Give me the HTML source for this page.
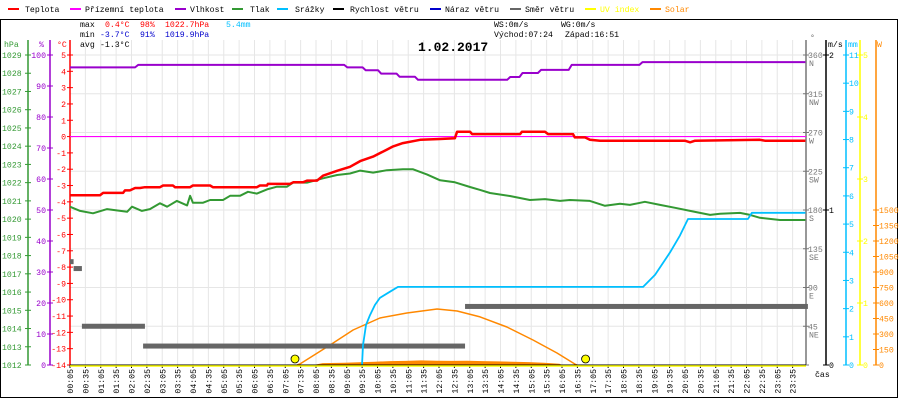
<!DOCTYPE html>
<html><head><meta charset="utf-8"><style>
html,body{margin:0;padding:0;background:#fff;}
svg{display:block;font-family:"Liberation Mono",monospace;}
</style></head><body>
<svg id="c" width="900" height="400" xmlns="http://www.w3.org/2000/svg">
<g id="grid"></g>
<rect x="0.5" y="19.5" width="897" height="378" fill="none" stroke="#000"/>
<g id="legend" font-size="8.2"></g>
<g font-size="8.2">
<text x="80" y="27" fill="#000">max</text><text x="105" y="27" fill="#f00">0.4°C</text><text x="140" y="27" fill="#f00">98%</text><text x="165" y="27" fill="#f00">1022.7hPa</text><text x="226" y="27" fill="#00bfff">5.4mm</text>
<text x="80" y="37" fill="#000">min</text><text x="100" y="37" fill="#00c">-3.7°C</text><text x="140" y="37" fill="#00c">91%</text><text x="165" y="37" fill="#00c">1019.9hPa</text>
<text x="80" y="47" fill="#000">avg</text><text x="100" y="47" fill="#000">-1.3°C</text>
<text x="494" y="27" fill="#000">WS:0m/s</text><text x="561" y="27" fill="#000">WG:0m/s</text>
<text x="494" y="37" fill="#000">Východ:07:24</text><text x="565" y="37" fill="#000">Západ:16:51</text>
</g>
<text x="418" y="51" font-size="13" font-weight="bold" fill="#000">1.02.2017</text>
<g id="axes"></g>
<g id="series"></g>
</svg>
<script>
const hours = [0.08,1.06,1.16,1.81,1.87,2.03,2.2,2.36,2.52,3.01,3.11,3.43,3.5,3.99,4.08,4.64,4.73,6.16,6.26,6.49,6.52,7.24,7.34,7.66,7.79,8.12,8.31,8.77,9.19,9.52,9.94,10.39,10.59,10.91,11.47,12.12,12.6,12.67,13.09,13.16,14.72,14.78,15.53,15.63,16.44,16.5,16.83,16.99,17.32,20.08,20.25,20.41,22.52,22.68,24.0];
const tempC = [-3.6,-3.6,-3.45,-3.45,-3.3,-3.3,-3.15,-3.15,-3.1,-3.1,-3.0,-3.0,-3.1,-3.1,-3.0,-3.0,-3.1,-3.1,-3.0,-3.0,-2.9,-2.9,-2.8,-2.8,-2.7,-2.7,-2.4,-2.1,-1.85,-1.5,-1.23,-0.8,-0.6,-0.4,-0.2,-0.15,-0.1,0.3,0.3,0.15,0.15,0.3,0.3,0.15,0.15,-0.05,-0.05,-0.2,-0.25,-0.25,-0.35,-0.25,-0.2,-0.25,-0.25];
const humHours = [0.08,2.2,2.3,9.0,9.1,9.6,9.7,10.1,10.2,10.7,10.8,11.3,11.4,14.3,14.4,14.7,14.8,15.3,15.4,16.3,16.4,18.6,18.7,24.0];
const humidity = [96,96,96.8,96.8,96,96,95.1,95.1,94,94,93,93,92,92,92.9,92.9,94.2,94.2,95.2,95.2,96.8,96.8,97.7,97.7];
const presHours = [0.08,0.41,0.83,1.29,1.94,2.1,2.42,2.68,3.01,3.24,3.56,3.89,3.99,4.08,4.41,4.64,5.06,5.29,5.61,5.87,6.16,6.49,6.81,7.14,7.34,7.79,8.31,8.77,9.19,9.52,9.94,10.39,10.91,11.24,11.69,12.12,12.6,13.09,13.42,13.74,14.39,15.04,15.53,16.02,16.34,16.99,17.48,17.97,18.29,18.78,19.27,19.76,20.25,20.57,20.9,21.22,21.87,22.2,22.52,23.17,24.0];
const pressure = [1020.68,1020.45,1020.32,1020.55,1020.4,1020.68,1020.45,1020.55,1020.87,1020.68,1021.0,1020.75,1021.28,1020.9,1020.9,1021.05,1021.05,1021.28,1021.28,1021.5,1021.4,1021.63,1021.78,1021.78,1022.0,1022.0,1022.24,1022.42,1022.5,1022.66,1022.55,1022.68,1022.73,1022.73,1022.45,1022.13,1022.02,1021.76,1021.6,1021.43,1021.27,1021.05,1021.1,1021.0,1021.05,1021.0,1020.73,1020.84,1020.78,1020.95,1020.78,1020.62,1020.45,1020.34,1020.23,1020.29,1020.34,1020.23,1020.07,1019.95,1019.95];
const rainHours = [9.58,9.61,9.71,9.84,10.0,10.16,10.49,10.75,18.72,19.11,19.6,19.92,20.18,22.13,22.26,24.0];
const rainMm = [0,0.7,1.42,1.77,2.13,2.38,2.6,2.77,2.77,3.2,4.0,4.6,5.18,5.18,5.4,5.4];
const solarHours = [7.47,7.56,8.54,9.29,10.16,11.04,12.02,12.67,13.42,14.29,15.14,15.92,16.5,16.57];
const solarMax = [0,10,194,339,455,503,542,523,465,368,242,116,10,0];
const solarActHours = [8.0,8.3,9.0,9.6,10.0,10.5,11.0,11.5,12.0,12.5,13.0,13.5,14.0,14.5,15.0,15.5,16.0,16.1];
const solarAct = [0,18,22,28,32,38,40,45,42,40,42,38,35,32,28,22,12,0];
const dirStart = [0.08,0.2,0.47,2.46,12.93];
const dirEnd = [0.2,0.47,2.52,12.93,24.08];
const dirDeg = [120,112,45,22,68];
const sunEvents = [7.4,16.85];
const tickLabels = [];
for (let h=0; h<24; h++){ const hh=String(h).padStart(2,'0'); tickLabels.push(hh+':05', hh+':35'); }
const tempTicks = [5,4,3,2,1,0,-1,-2,-3,-4,-5,-6,-7,-8,-9,-10,-11,-12,-13,-14];
const humTicks = [100,90,80,70,60,50,40,30,20,10,0];
const presTicks = [1029,1028,1027,1026,1025,1024,1023,1022,1021,1020,1019,1018,1017,1016,1015,1014,1013,1012];
const dirTicks = [360,315,270,225,180,135,90,45];
const dirNames = ['N','NW','W','SW','S','SE','E','NE'];
const rainTicks = [0,1,2,3,4,5,6,7,8,9,10,11];
const uvTicks = [0,1,2,3,4,5];
const solarTicks = [0,150,300,450,600,750,900,1050,1200,1350,1500];

const NS='http://www.w3.org/2000/svg';
const TOP=55, BOT=365, L=70, R=806;
const X = t => L + (t-0.083)*30.75;
const yT = v => BOT - (v+14)*(BOT-TOP)/19;
const yH = v => BOT - v*(BOT-TOP)/100;
const yP = v => BOT - (v-1012)*(BOT-TOP)/17;
const yD = v => BOT - v*(BOT-TOP)/360;
const yR = v => BOT - v*(BOT-TOP)/11;
const yU = v => BOT - v*(BOT-TOP)/5;
const yS = v => BOT - v*155/1500;
function mk(parent, tag, attrs, text){ const e=document.createElementNS(NS,tag); for(const k in attrs) e.setAttribute(k,attrs[k]); if(text!==undefined) e.textContent=text; document.getElementById(parent).appendChild(e); return e; }

// grid
for (let i=0;i<tickLabels.length;i++){ const x=L+i*15.375;
  const g=mk('grid','line',{x1:x,y1:40,x2:x,y2:BOT,stroke:'#e6e6e6'});
    }
dirTicks.forEach(d=>{ const y=yD(d);
  const g=mk('grid','line',{x1:L,y1:y,x2:R,y2:y,stroke:'#e6e6e6'});
    });

// legend
const legItems=[['Teplota','#f00',8,25],['Přízemní teplota','#f0f',70,85],['Vlhkost','#90c',175,190],['Tlak','#393',232,250],['Srážky','#00bfff',277,295],['Rychlost větru','#000',333,350],['Náraz větru','#00c',430,445],['Směr větru','#666',510,525],['UV index','#ff0',585,600],['Solar','#f80',650,665]];
legItems.forEach(it=>{
  const ln=mk('legend','rect',{x:it[2],y:8,width:11,height:2,fill:it[1]});
   
  const tx=mk('legend','text',{x:it[3],y:12,fill:(it[0]==='UV index'||it[0]==='Solar')?it[1]:'#000'},it[0]);
   
});

// axes
function axisLine(x,color,name){ const a=mk('axes','line',{x1:x,y1:TOP-15,x2:x,y2:BOT,stroke:color,'stroke-width':1.5});
    }
axisLine(28,'#393','pressure-axis'); axisLine(50,'#90c','humidity-axis'); axisLine(70,'#f00','temperature-axis');
axisLine(806,'#777','direction-axis'); axisLine(826,'#000','wind-axis'); axisLine(846,'#00bfff','rain-axis'); axisLine(860,'#ff0','uv-axis'); axisLine(876,'#f80','solar-axis');
function lbl(x,y,txt,color,anchor,name){ const t=mk('axes','text',{x:x,y:y,fill:color,'font-size':8.2,'text-anchor':anchor||'start'},txt);
    return t; }
function tick(x1,x2,y,color){ const t=mk('axes','line',{x1:x1,y1:y,x2:x2,y2:y,stroke:color});
    }
lbl(4,47,'hPa','#393','start','pressure-unit'); lbl(39,47,'%','#90c','start','humidity-unit'); lbl(57,47,'°C','#f00','start','temperature-unit');
presTicks.forEach(v=>{ tick(25,31,yP(v),'#393'); lbl(2,yP(v)+3,v,'#393','start','pressure-tick-label'); });
humTicks.forEach(v=>{ tick(47,53,yH(v),'#90c'); lbl(46,yH(v)+3,v,'#90c','end','humidity-tick-label'); });
tempTicks.forEach(v=>{ tick(67,73,yT(v),'#f00'); lbl(66,yT(v)+3,v,'#f00','end','temperature-tick-label'); });
lbl(810,40,'°','#666','start','direction-unit'); lbl(828,47,'m/s','#000','start','wind-unit'); lbl(848,47,'mm','#00bfff','start','rain-unit'); lbl(877,47,'W','#f80','start','solar-unit');
dirTicks.forEach((v,i)=>{ tick(803,809,yD(v),'#777'); lbl(808,yD(v)+3,v,'#777','start','direction-tick-label'); lbl(809,yD(v)+11,dirNames[i],'#777','start','direction-name-label'); });
tick(803,809,BOT,'#777');
[[0,BOT],[1,210],[2,TOP]].forEach(p=>{ tick(823,829,p[1],'#000'); lbl(829,p[1]+3,p[0],'#000','start','wind-tick-label'); });
rainTicks.forEach(v=>{ tick(843,849,yR(v),'#00bfff'); lbl(849,yR(v)+3,v,'#00bfff','start','rain-tick-label'); });
uvTicks.forEach(v=>{ tick(857,863,yU(v),'#ff0'); lbl(863,yU(v)+3,v,'#ff0','start','uv-tick-label'); });
solarTicks.forEach(v=>{ tick(873,879,yS(v),'#f80'); lbl(879,yS(v)+3,v,'#f80','start','solar-tick-label'); });
tickLabels.forEach((s,i)=>{ const x=L+i*15.375;
  tick(x,x,BOT,'#000'); const tk=mk('axes','line',{x1:x,y1:BOT,x2:x,y2:BOT+3,stroke:'#000'});
   
  const t=mk('axes','text',{x:0,y:0,fill:'#000','font-size':8.2,'text-anchor':'end',transform:`translate(${x+3},${BOT+4}) rotate(-90)`},s);
    });
lbl(815,377,'čas','#000','start','x-axis-title');

// series
function poly(xs,ys,fx,fy,color,w,name){ const p=mk('series','polyline',{points:xs.map((t,i)=>X(t).toFixed(1)+','+fy(ys[i]).toFixed(1)).join(' '),fill:'none',stroke:color,'stroke-width':w,'stroke-linejoin':'round'});
    }
// solar actual fill
const sa=mk('series','polygon',{points:solarActHours.map((t,i)=>X(t).toFixed(1)+','+yS(solarAct[i]).toFixed(1)).join(' ')+` ${X(solarActHours[solarActHours.length-1])},${BOT} ${X(solarActHours[0])},${BOT}`,fill:'#f80'});
 
poly(solarHours,solarMax,X,yS,'#f80',1.5,'solar-max-line');
dirStart.forEach((s,i)=>{ const r=mk('series','rect',{x:X(s),y:yD(dirDeg[i])-2.5,width:X(dirEnd[i])-X(s),height:5,fill:'#666'});
    });
const feel=mk('series','line',{x1:L,y1:yT(0),x2:R,y2:yT(0),stroke:'#f0f','stroke-width':1.2});
 
poly(humHours,humidity,X,yH,'#90c',2,'humidity-line');
poly(presHours,pressure,X,yP,'#393',2,'pressure-line');
poly(hours,tempC,X,yT,'#f00',2.5,'temperature-line');
poly(rainHours,rainMm,X,yR,'#00bfff',1.8,'rain-line');
const base=mk('series','line',{x1:L,y1:BOT,x2:R,y2:BOT,stroke:'#000','stroke-width':1});
 
const uv=mk('series','line',{x1:L,y1:BOT+1,x2:R,y2:BOT+1,stroke:'#ff0','stroke-width':1.5});
 
sunEvents.forEach(t=>{ const c=mk('series','circle',{cx:X(t),cy:BOT-6,r:4,fill:'#ff0',stroke:'#000','stroke-width':0.8});
    });
</script>
</body></html>
